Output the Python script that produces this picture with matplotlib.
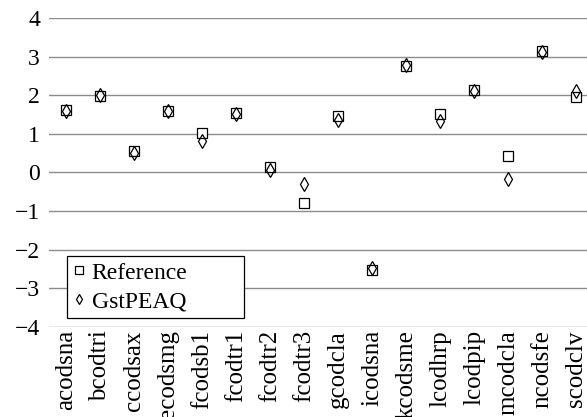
import matplotlib
matplotlib.use('Agg')
import matplotlib.pyplot as plt
import numpy as np

plt.rcParams['font.family'] = ['Liberation Serif', 'DejaVu Serif']

items = ['acodsna', 'bcodtri', 'ccodsax', 'ecodsmg', 'fcodsb1', 'fcodtr1',
         'fcodtr2', 'fcodtr3', 'gcodcla', 'icodsna', 'kcodsme', 'lcodhrp',
         'lcodpip', 'mcodcla', 'ncodsfe', 'scodclv']
reference = [1.61, 1.98, 0.55, 1.58, 1.02, 1.53, 0.15, -0.80, 1.45, -2.53,
             2.76, 1.52, 2.13, 0.42, 3.14, 1.96]
gstpeaq = [1.60, 2.00, 0.49, 1.58, 0.81, 1.51, 0.07, -0.29, 1.37, -2.47,
           2.78, 1.33, 2.10, -0.16, 3.12, 2.11]
yticks = [-4, -3, -2, -1, 0, 1, 2, 3, 4]

fig = plt.figure(figsize=(5.87, 4.17), dpi=100)
# axes runs past the right edge like the original
ax = fig.add_axes([0.0835, 0.2166, 0.985, 0.740])

x = np.arange(len(items))
ax.plot(x, reference, linestyle='none', marker='s', markersize=7.5,
        markerfacecolor='white', markeredgecolor='black', markeredgewidth=0.9,
        label='Reference')
ax.plot(x, gstpeaq, linestyle='none', marker='d', markersize=7.5,
        markerfacecolor='none', markeredgecolor='black', markeredgewidth=0.9,
        label='GstPEAQ')

ax.set_xlim(-0.5, len(items) + 0.5)
ax.set_ylim(-4, 4)
ax.set_yticks(yticks)
ax.set_yticklabels([str(v).replace('-', '\u2212') for v in yticks])
ax.set_xticks(x)
ax.set_xticklabels(items, rotation=90, va='top')
ax.tick_params(axis='both', length=0)
ax.tick_params(axis='y', pad=6.5, labelsize=17)
ax.tick_params(axis='x', pad=2.5, labelsize=18)
ax.yaxis.grid(True, color='#8c8c8c', linewidth=1.0)
ax.set_axisbelow(True)
for s in ax.spines.values():
    s.set_visible(False)

# box is wider than its text in the original, so stretch it
leg = ax.legend(loc='lower left', bbox_to_anchor=(0.031, 0.028, 0.306, 0.204),
                mode='expand', fontsize=17,
                fancybox=False, edgecolor='black', framealpha=1,
                handlelength=0.5, handletextpad=0.3, borderpad=0.25,
                borderaxespad=0, labelspacing=0.3, markerscale=0.7)
leg.get_frame().set_linewidth(0.9)

fig.savefig('out.png', dpi=100)
